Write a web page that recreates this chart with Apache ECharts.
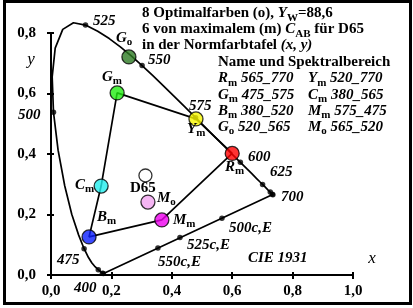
<!DOCTYPE html>
<html>
<head>
<meta charset="utf-8">
<script src="https://cdn.jsdelivr.net/npm/echarts@6/dist/echarts.min.js"></script>
<style>
html, body { margin: 0; padding: 0; background: #fff; }
#chart { width: 413px; height: 308px; }
</style>
</head>
<body>
<div id="chart"></div>
<script>
// Spektralfarbenzug CIE 1931 (x, y)
const locusWl = [380, 385, 390, 395, 400, 405, 410, 415, 420, 425, 430, 435, 440, 445, 450, 455, 460, 465, 470, 475,
  480, 485, 490, 495, 500, 505, 510, 515, 520, 525, 530, 535, 540, 545, 550, 555, 560, 565, 570, 575,
  580, 585, 590, 595, 600, 605, 610, 615, 620, 625, 630, 635, 640, 645, 650, 655, 660, 665, 670, 675,
  680, 685, 690, 695, 700];
const locusX = [0.1741, 0.1740, 0.1738, 0.1736, 0.1733, 0.1730, 0.1726, 0.1721, 0.1714, 0.1703, 0.1689, 0.1669, 0.1644, 0.1611, 0.1566, 0.1510, 0.1440, 0.1355, 0.1241, 0.1096,
  0.0913, 0.0687, 0.0454, 0.0235, 0.0082, 0.0039, 0.0139, 0.0389, 0.0743, 0.1142, 0.1547, 0.1929, 0.2296, 0.2658, 0.3016, 0.3373, 0.3731, 0.4087, 0.4441, 0.4788,
  0.5125, 0.5448, 0.5752, 0.6029, 0.6270, 0.6482, 0.6658, 0.6801, 0.6915, 0.7006, 0.7079, 0.7140, 0.7190, 0.7230, 0.7260, 0.7283, 0.7300, 0.7311, 0.7320, 0.7327,
  0.7334, 0.7340, 0.7344, 0.7346, 0.7347];
const locusY = [0.0050, 0.0050, 0.0049, 0.0049, 0.0048, 0.0048, 0.0048, 0.0048, 0.0051, 0.0058, 0.0069, 0.0086, 0.0109, 0.0138, 0.0177, 0.0227, 0.0297, 0.0399, 0.0578, 0.0868,
  0.1327, 0.2007, 0.2950, 0.4127, 0.5384, 0.6548, 0.7502, 0.8120, 0.8338, 0.8262, 0.8059, 0.7816, 0.7543, 0.7243, 0.6923, 0.6589, 0.6245, 0.5896, 0.5547, 0.5202,
  0.4866, 0.4544, 0.4242, 0.3965, 0.3725, 0.3514, 0.3340, 0.3197, 0.3083, 0.2993, 0.2920, 0.2859, 0.2809, 0.2770, 0.2740, 0.2717, 0.2700, 0.2689, 0.2680, 0.2673,
  0.2666, 0.2660, 0.2656, 0.2654, 0.2653];
// markierte Wellenlaengen (Punkte)
const dotWl = [400, 425, 450, 475, 500, 525, 550, 575, 600, 625, 650, 675, 700];
// Punkte auf der Purpurlinie (500c, 525c, 550c)
const purpleX = [0.566, 0.427, 0.354];
const purpleY = [0.188, 0.124, 0.089];

// Farbpunkte
const colNames = ['Rm', 'Ym', 'Gm', 'Cm', 'Bm', 'Mm', 'Go', 'Mo'];
const colX = [0.600, 0.480, 0.219, 0.166, 0.126, 0.367, 0.258, 0.321];
const colY = [0.402, 0.516, 0.602, 0.294, 0.126, 0.182, 0.721, 0.241];
const colFill = ['#ff0000', '#f8f800', '#22ee11', '#22eeee', '#0a1eff', '#ee00ee', '#2d7a23', '#f2a2f0'];
// Sechseck der (m)-Farben
const hexOrder = ['Rm', 'Ym', 'Gm', 'Cm', 'Bm', 'Mm', 'Rm'];
const d65 = [0.3127, 0.3290];

const xTicks = [0, 0.2, 0.4, 0.6, 0.8, 1.0];
const yTicks = [0, 0.2, 0.4, 0.6, 0.8];

const chart = echarts.init(document.getElementById('chart'));

const locusData = locusX.map((x, i) => [x, locusY[i]]);
locusData.push([locusX[0], locusY[0]]); // Purpurlinie schliessen
const dotData = dotWl.map(w => {
    const i = locusWl.indexOf(w);
    return [locusX[i], locusY[i]];
}).concat(purpleX.map((x, i) => [x, purpleY[i]]));
const hexData = hexOrder.map(n => {
    const i = colNames.indexOf(n);
    return [colX[i], colY[i]];
});
const colData = colNames.map((n, i) => ({
    value: [colX[i], colY[i]],
    itemStyle: { color: colFill[i] }
}));

const FONT = 'Liberation Serif';
const rich = {
    b: { fontFamily: FONT, fontWeight: 'bold', fontSize: 15, lineHeight: 20, fill: '#000' },
    i: { fontFamily: FONT, fontWeight: 'bold', fontStyle: 'italic', fontSize: 15, lineHeight: 20, fill: '#000' },
    s: { fontFamily: FONT, fontWeight: 'bold', fontSize: 11, lineHeight: 10, verticalAlign: 'bottom', fill: '#000' }
};
// Textelement, (x, y) = linker Rand, Mitte
function txt(x, y, text) {
    return {
        type: 'text', x: x, y: y, z: 100,
        style: { text: text, rich: rich, fontFamily: FONT, fontWeight: 'bold', fontSize: 15, verticalAlign: 'middle', align: 'left' }
    };
}
function fmt(v) { return v.toFixed(1).replace('.', ','); }

const axisCommon = {
    type: 'value',
    splitLine: { show: false },
    axisLine: { show: true, onZero: false, lineStyle: { color: '#000', width: 2 } },
    axisTick: { show: true, length: 4, lineStyle: { color: '#000', width: 2 } },
    axisLabel: { formatter: fmt, color: '#000', fontFamily: FONT, fontWeight: 'bold', fontSize: 15 }
};

chart.setOption({
    animation: false,
    grid: { left: 51, top: 33, width: 302, height: 242 },
    xAxis: [
        Object.assign({}, axisCommon, { min: 0, max: 1, interval: 0.2, axisLabel: Object.assign({}, axisCommon.axisLabel, { margin: 9 }) }),
        // Striche nach innen
        { type: 'value', min: 0, max: 1, interval: 0.2, position: 'bottom', splitLine: { show: false }, axisLine: { show: false },
          axisLabel: { show: false }, axisTick: { show: true, inside: true, length: 3, lineStyle: { color: '#000', width: 2 } } }
    ],
    yAxis: [
        Object.assign({}, axisCommon, { min: 0, max: 0.8, interval: 0.2, axisLabel: Object.assign({}, axisCommon.axisLabel, { margin: 15 }) }),
        { type: 'value', min: 0, max: 0.8, interval: 0.2, position: 'left', splitLine: { show: false }, axisLine: { show: false },
          axisLabel: { show: false }, axisTick: { show: true, inside: true, length: 3, lineStyle: { color: '#000', width: 2 } } }
    ],
    series: [
        {
            type: 'line', data: locusData, symbol: 'none', clip: false, smooth: false,
            lineStyle: { color: '#000', width: 1.7 }, z: 2
        },
        {
            type: 'scatter', data: dotData, symbolSize: 5.5, clip: false,
            itemStyle: { color: '#000' }, z: 3
        },
        {
            type: 'line', data: hexData, symbol: 'none', clip: false,
            lineStyle: { color: '#000', width: 1.7 }, z: 4
        },
        {
            type: 'scatter', data: colData, symbolSize: 14, clip: false,
            itemStyle: { borderColor: '#000', borderWidth: 1.3 }, z: 5
        },
        {
            type: 'scatter', data: [d65], symbolSize: 13, clip: false,
            itemStyle: { color: '#fff', borderColor: '#000', borderWidth: 1.3 }, z: 5
        }
    ],
    graphic: [
        { type: 'rect', shape: { x: 4.5, y: 1.5, width: 406, height: 302 }, style: { fill: 'none', stroke: '#000', lineWidth: 3 }, z: 100 },
        txt(142, 13.5, '{b|8 Optimalfarben (o), }{i|Y}{s|W}{b|=88,6}'),
        txt(142, 29.5, '{b|6 von maximalem (m) }{i|C}{s|AB}{b| für D65}'),
        txt(142, 45.5, '{b|in der Normfarbtafel }{i|(x, y)}'),
        txt(218, 62, '{b|Name und Spektralbereich}'),
        txt(218, 78.5, '{i|R}{s|m}{i| 565_770}'),
        txt(308, 78.5, '{i|Y}{s|m}{i| 520_770}'),
        txt(218, 95, '{i|G}{s|m}{i| 475_575}'),
        txt(308, 95, '{i|C}{s|m}{i| 380_565}'),
        txt(218, 111, '{i|B}{s|m}{i| 380_520}'),
        txt(308, 111, '{i|M}{s|m}{i| 575_475}'),
        txt(218, 127, '{i|G}{s|o}{i| 520_565}'),
        txt(308, 127, '{i|M}{s|o}{i| 565_520}'),
        // Wellenlaengen
        txt(93, 21, '{i|525}'),
        txt(148, 60, '{i|550}'),
        txt(189, 106, '{i|575}'),
        txt(18, 115, '{i|500}'),
        txt(248, 157, '{i|600}'),
        txt(270, 172, '{i|625}'),
        txt(281, 197, '{i|700}'),
        txt(57, 260, '{i|475}'),
        txt(74, 288, '{i|400}'),
        txt(229, 228, '{i|500c,E}'),
        txt(187, 245, '{i|525c,E}'),
        txt(158, 262, '{i|550c,E}'),
        txt(248, 258, '{i|CIE 1931}'),
        // Farbnamen
        txt(116, 38, '{i|G}{s|o}'),
        txt(102, 77, '{i|G}{s|m}'),
        txt(187, 129, '{i|Y}{s|m}'),
        txt(225, 167, '{i|R}{s|m}'),
        txt(75, 185, '{i|C}{s|m}'),
        txt(130, 188, '{b|D65}'),
        txt(157, 198, '{i|M}{s|o}'),
        txt(97, 217, '{i|B}{s|m}'),
        txt(173, 220, '{i|M}{s|m}'),
        // Achsennamen
        { type: 'text', x: 372, y: 259, z: 100, style: { text: 'x', fontFamily: FONT, fontStyle: 'italic', fontSize: 17, fill: '#000', align: 'center', verticalAlign: 'middle' } },
        { type: 'text', x: 31, y: 60, z: 100, style: { text: 'y', fontFamily: FONT, fontStyle: 'italic', fontSize: 17, fill: '#000', align: 'center', verticalAlign: 'middle' } }
    ]
});
</script>
</body>
</html>
